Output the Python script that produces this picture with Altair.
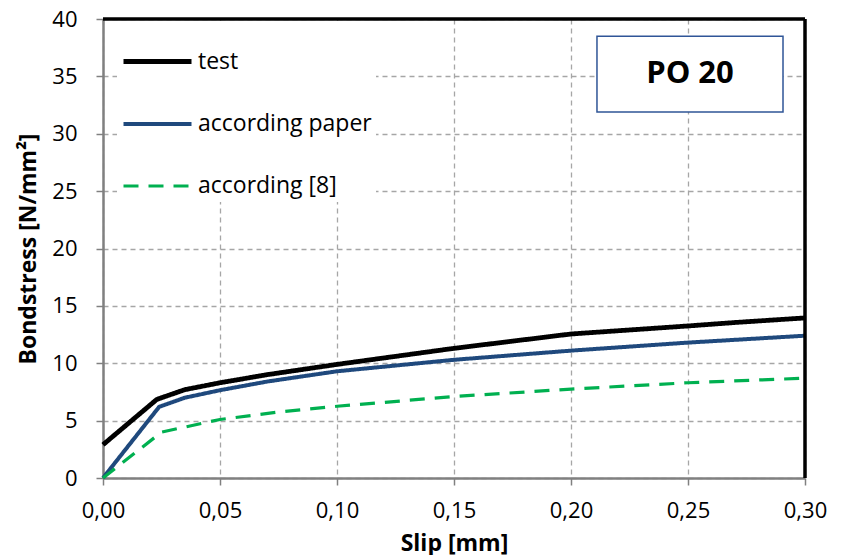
import altair as alt
import pandas as pd

# ---- data ----
series_names = ["test", "according paper", "according [8]"]
series_colors = ["#000000", "#1F497D", "#00B050"]

slip_test = [0.0, 0.023, 0.035, 0.05, 0.07, 0.10, 0.15, 0.20, 0.25, 0.27, 0.30]
stress_test = [2.9, 6.85, 7.7, 8.3, 9.0, 9.9, 11.3, 12.55, 13.25, 13.55, 13.95]

slip_paper = [0.0, 0.024, 0.035, 0.05, 0.07, 0.10, 0.15, 0.20, 0.25, 0.30]
stress_paper = [0.0, 6.2, 7.0, 7.65, 8.4, 9.3, 10.3, 11.1, 11.8, 12.4]

slip_ref8 = [0.0, 0.025, 0.05, 0.075, 0.10, 0.15, 0.20, 0.25, 0.30]
stress_ref8 = [0.0, 4.0, 5.1, 5.75, 6.25, 7.1, 7.75, 8.3, 8.7]

x_ticks = [0.0, 0.05, 0.10, 0.15, 0.20, 0.25, 0.30]
y_ticks = [0, 5, 10, 15, 20, 25, 30, 35, 40]
x_domain = [0.0, 0.30]
y_domain = [0, 40]

label_text = ["PO 20"]
label_box_x = [0.2111]
label_box_x2 = [0.2906]
label_box_y = [38.5]
label_box_y2 = [31.9]

rows = []
for name, xs, ys in [
    (series_names[0], slip_test, stress_test),
    (series_names[1], slip_paper, stress_paper),
    (series_names[2], slip_ref8, stress_ref8),
]:
    for i, (a, b) in enumerate(zip(xs, ys)):
        rows.append({"series": name, "slip": a, "stress": b, "idx": i})
df = pd.DataFrame(rows)

box_df = pd.DataFrame({
    "label": label_text,
    "x": label_box_x, "x2": label_box_x2,
    "y": label_box_y, "y2": label_box_y2,
})

FONT = "Open Sans"

x_scale = alt.Scale(domain=x_domain, nice=False, zero=False)
y_scale = alt.Scale(domain=y_domain, nice=False)

lines = alt.Chart(df).mark_line(strokeCap="butt", strokeJoin="round").encode(
    x=alt.X("slip:Q", scale=x_scale,
            axis=alt.Axis(values=x_ticks, title="Slip [mm]",
                          labelExpr="replace(format(datum.value, '.2f'), '.', ',')",
                          labelFlush=False, labelOverlap=False,
                          labelPadding=15, titlePadding=11)),
    y=alt.Y("stress:Q", scale=y_scale,
            axis=alt.Axis(values=y_ticks, title="Bondstress [N/mm²]",
                          labelPadding=19, titlePadding=11)),
    order="idx:Q",
    color=alt.Color("series:N",
                    scale=alt.Scale(domain=series_names, range=series_colors),
                    legend=alt.Legend(title=None, orient="none",
                                      legendX=14, legendY=2,
                                      fillColor="white", padding=4,
                                      symbolType="stroke", symbolSize=4624,
                                      labelFont=FONT, labelFontSize=23,
                                      labelColor="#000000",
                                      labelOffset=4, rowPadding=14,
                                      labelLimit=400)),
    strokeDash=alt.StrokeDash("series:N",
                              scale=alt.Scale(domain=series_names,
                                              range=[[1, 0], [1, 0], [15, 10]]),
                              legend=alt.Legend(title=None)),
    strokeWidth=alt.StrokeWidth("series:N",
                                scale=alt.Scale(domain=series_names,
                                                range=[4.8, 3.2, 4.4]),
                                legend=alt.Legend(title=None)),
)

# top and right frame lines of the plot area (drawn in data space)
frame_top = alt.Chart().mark_rule(color="#000000", strokeWidth=3.5).encode(
    x=alt.datum(x_domain[0], scale=x_scale), x2=alt.datum(x_domain[1]),
    y=alt.datum(y_domain[1], scale=y_scale),
)
frame_right = alt.Chart().mark_rule(color="#000000", strokeWidth=3.5).encode(
    x=alt.datum(x_domain[1], scale=x_scale),
    y=alt.datum(y_domain[0], scale=y_scale), y2=alt.datum(y_domain[1]),
)

box = alt.Chart(box_df).mark_rect(fill="white", stroke="#2F5597", strokeWidth=1.5).encode(
    x=alt.X("x:Q", scale=x_scale), x2="x2:Q",
    y=alt.Y("y:Q", scale=y_scale), y2="y2:Q",
)
box_text = alt.Chart(box_df).transform_calculate(
    xm="(datum.x + datum.x2) / 2", ym="(datum.y + datum.y2) / 2"
).mark_text(font=FONT, fontSize=31, fontWeight="bold", color="#000000",
            baseline="middle", align="center").encode(
    x=alt.X("xm:Q", scale=x_scale),
    y=alt.Y("ym:Q", scale=y_scale),
    text="label:N",
)

chart = alt.layer(lines, frame_top, frame_right, box, box_text).properties(
    width=702, height=459,
    padding={"left": 9, "top": 0, "right": 5, "bottom": 0},
).configure_view(
    stroke=None,
).configure_axis(
    labelFont=FONT, labelFontSize=22, labelColor="#000000",
    titleFont=FONT, titleFontSize=23, titleFontWeight="bold", titleColor="#000000",
    domainColor="#808080", domainWidth=2.5,
    tickColor="#808080", tickSize=7, tickWidth=1.5,
    gridColor="#A6A6A6", gridDash=[5, 4], gridWidth=1.3,
)

chart.save("out.html", embed_options={"renderer": "svg", "actions": False})
